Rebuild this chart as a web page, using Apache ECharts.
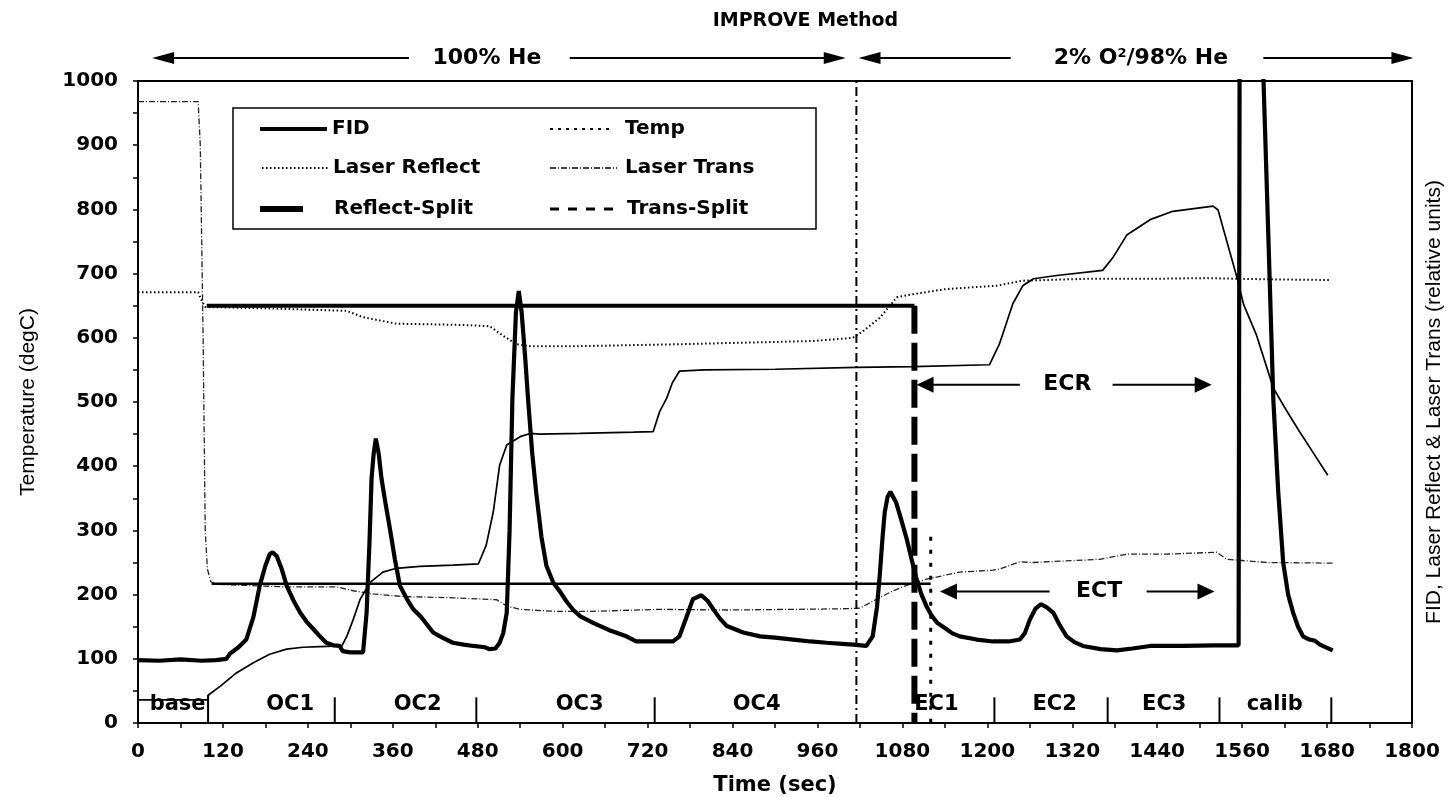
<!DOCTYPE html>
<html><head><meta charset="utf-8">
<script src="https://cdn.jsdelivr.net/npm/echarts@6/dist/echarts.min.js"></script>
<style>html,body{margin:0;padding:0;background:#fff}#c{width:1452px;height:797px}</style>
</head><body><div id="c"></div><script>
// ---------------- DATA (time in s, value in axis units) ----------------
const fidData = [[0,98],[30,97],[60,99],[90,97],[110,98],[125,100],[130,108],[142,118],[153,130],[163,165],[172,214],[180,245],[186,263],[190,266],[196,260],[203,240],[210,214],[220,190],[229,172],[238,158],[248,146],[257,135],[266,125],[276,121],[285,120],[289,112],[300,110],[318,110],[323,172],[327,280],[330,381],[333,420],[336,443],[340,420],[344,381],[350,340],[356,302],[363,255],[370,214],[380,193],[389,177],[400,165],[417,141],[430,133],[445,125],[460,122],[474,120],[490,118],[497,115],[505,116],[511,125],[516,140],[521,172],[525,300],[529,506],[534,640],[538,673],[542,640],[547,570],[551,506],[557,420],[563,355],[570,290],[577,245],[587,218],[596,205],[605,190],[615,176],[625,166],[643,156],[665,145],[690,135],[704,127],[730,127],[756,127],[765,135],[775,165],[784,193],[796,199],[805,190],[813,177],[822,163],[832,151],[855,141],[879,135],[900,133],[926,130],[950,127],[973,125],[1000,123],[1011,122],[1029,120],[1038,135],[1044,180],[1048,230],[1052,290],[1055,328],[1059,352],[1063,360],[1071,344],[1078,318],[1086,287],[1093,255],[1100,224],[1107,200],[1114,182],[1121,168],[1129,156],[1140,148],[1150,140],[1161,135],[1185,130],[1208,127],[1230,127],[1246,130],[1253,140],[1260,161],[1268,178],[1276,185],[1284,180],[1293,172],[1302,153],[1312,135],[1323,126],[1335,120],[1360,115],[1383,113],[1405,116],[1430,120],[1477,120],[1520,121],[1555,121],[1557,1400],[1585,1400],[1590,1008],[1597,760],[1604,505],[1611,360],[1618,250],[1625,200],[1632,172],[1639,150],[1646,135],[1655,130],[1663,128],[1670,122],[1680,117],[1688,113]];
const tempData = [[0,36],[98,36],[100,44],[116,57],[139,78],[163,94],[186,107],[210,115],[233,118],[257,119],[288,120],[295,135],[304,161],[314,193],[328,219],[346,235],[365,241],[398,244],[445,246],[481,248],[492,277],[502,329],[511,402],[521,433],[540,446],[554,451],[568,450],[624,451],[700,453],[728,454],[737,485],[747,506],[755,530],[765,548],[800,550],[900,551],[1015,554],[1095,555],[1203,558],[1217,590],[1236,653],[1250,681],[1265,692],[1298,697],[1363,705],[1378,726],[1397,760],[1430,784],[1462,797],[1519,805],[1526,799],[1542,736],[1554,689],[1562,652],[1580,605],[1604,522],[1622,488],[1641,454],[1661,420],[1681,386]];
const reflectData = [[0,671],[85,671],[89,660],[95,648],[177,646],[295,642],[318,632],[365,622],[459,620],[497,618],[516,603],[535,590],[554,587],[624,587],[765,590],[954,595],[1010,600],[1024,610],[1048,631],[1072,663],[1095,668],[1142,676],[1213,681],[1250,689],[1344,692],[1439,692],[1509,693],[1551,692],[1604,691],[1684,690]];
const transData = [[0,968],[85,968],[88,900],[92,600],[95,300],[98,240],[103,220],[110,216],[210,212],[281,212],[304,206],[332,201],[375,197],[445,195],[507,192],[521,182],[540,177],[587,174],[643,174],[737,177],[832,176],[926,177],[1000,178],[1020,179],[1044,193],[1067,206],[1090,216],[1114,224],[1161,235],[1208,238],[1218,240],[1246,251],[1265,250],[1359,255],[1397,263],[1453,263],[1524,266],[1538,255],[1595,250],[1689,249]];

const reflectSplit = {level:650, start:97, time:1097};
const transSplit = {level:217, start:104, time:1120, top:290};
const gasChangeTime = 1015;

const segmentBounds = [99,278,478,730,1210,1370,1528,1686];
const segmentBoundTops = [44,40,40,40,40,40,40,40];
const segmentNames = ['base','OC1','OC2','OC3','OC4','EC1','EC2','EC3','calib'];
const segmentCenters = [56,215,395,624,874,1128,1295,1450,1606];
const segmentLabelLevel = 28;

const xTicks = {min:0, max:1800, interval:120};
const yTicks = {min:0, max:1000, interval:100};

// annotations (data coordinates)
const ecr = {level:527, tipL:1100, lineL:1246, text:1313, lineR:1377, tipR:1517};
const ect = {level:205, tipL:1133, lineL:1288, text:1358, lineR:1425, tipR:1521};
const heArrow = {tipL:20, lineL:383, text:493, lineR:610, tipR:1000};
const o2Arrow = {tipL:1018, lineL:1233, text:1417, lineR:1590, tipR:1802};
const titleCenterT = 943;

// ---------------- CHART ----------------
const FONT = '"DejaVu Sans", sans-serif';
const chart = echarts.init(document.getElementById('c'));

function ls(name, data, lineStyle, z){
  return {name, type:'line', data, showSymbol:false, symbol:'none', clip:true,
    lineStyle:Object.assign({color:'#000'}, lineStyle), z, silent:true, animation:false};
}

const series = [
  ls('Laser Trans', transData, {width:1.3, color:'#222', type:[6,2,1,2]}, 2),
  ls('Laser Reflect', reflectData, {width:2, type:[1.5,2.5]}, 2),
  ls('Temp', tempData, {width:1.7}, 3),
  ls('Trans-Split', [[transSplit.start,transSplit.level],[transSplit.time,transSplit.level]], {width:2.5}, 4),
  ls('Trans-Split-v', [[transSplit.time,transSplit.top],[transSplit.time,0]], {width:3, type:[4,9]}, 4),
  ls('Reflect-Split', [[reflectSplit.start,reflectSplit.level],[reflectSplit.time,reflectSplit.level]], {width:4}, 4),
  ls('Reflect-Split-v', [[reflectSplit.time,reflectSplit.level],[reflectSplit.time,0]], {width:6, type:[28,9]}, 4),
  ls('gas', [[gasChangeTime,0],[gasChangeTime,1000]], {width:2, type:[9,4,2,4]}, 4),
  ls('FID', fidData, {width:4.2}, 6)
];
segmentBounds.forEach((t,i)=>{
  series.push(ls('div'+i, [[t,0],[t,segmentBoundTops[i]]], {width:2}, 4));
});

chart.setOption({
  animation:false,
  backgroundColor:'#fff',
  grid:{left:138, right:40, top:81, bottom:74, show:true, borderColor:'#000', borderWidth:2,
        containLabel:false, outerBoundsMode:'none'},
  xAxis:{type:'value', min:xTicks.min, max:xTicks.max, interval:xTicks.interval,
    name:'Time (sec)', nameLocation:'middle', nameGap:52,
    nameTextStyle:{fontFamily:FONT, fontWeight:'bold', fontSize:21, color:'#000'},
    axisLine:{lineStyle:{color:'#000', width:2}},
    axisTick:{show:true, length:5, lineStyle:{color:'#000', width:1.5}},
    minorTick:{show:true, splitNumber:2, length:5, lineStyle:{color:'#000', width:1.5}},
    splitLine:{show:false},
    axisLabel:{fontFamily:FONT, fontWeight:'bold', fontSize:20, color:'#000', margin:19, formatter:v=>String(v)}},
  yAxis:[
    {type:'value', min:yTicks.min, max:yTicks.max, interval:yTicks.interval,
     name:'Temperature (degC)', nameLocation:'middle', nameGap:99, nameRotate:90,
     nameTextStyle:{fontFamily:'"Liberation Sans", Arial, sans-serif', fontSize:21, color:'#000'},
     axisLine:{show:true, lineStyle:{color:'#000', width:2}},
     axisTick:{show:true, length:5, lineStyle:{color:'#000', width:1.5}},
     minorTick:{show:true, splitNumber:2, length:5, lineStyle:{color:'#000', width:1.5}},
     splitLine:{show:false},
     axisLabel:{fontFamily:FONT, fontWeight:'bold', fontSize:20, color:'#000', margin:20, formatter:v=>String(v)}},
    {type:'value', min:yTicks.min, max:yTicks.max, position:'right',
     name:'FID, Laser Reflect & Laser Trans (relative units)', nameLocation:'middle', nameGap:12, nameRotate:90,
     nameTextStyle:{fontFamily:'"Liberation Sans", Arial, sans-serif', fontSize:21, color:'#000'},
     axisLine:{show:true, lineStyle:{color:'#000', width:2}},
     axisTick:{show:false}, axisLabel:{show:false}, splitLine:{show:false}}
  ],
  series
});

// ---------------- GRAPHICS (annotations & legend) ----------------
const P = (t,v)=>chart.convertToPixel({xAxisIndex:0, yAxisIndex:0},[t,v]);
const X = t=>P(t,0)[0];
const Y = v=>P(0,v)[1];
const g = [];
function line(x1,y1,x2,y2,w,dash){ g.push({type:'line', silent:true, z:100, shape:{x1,y1,x2,y2}, style:{stroke:'#000', lineWidth:w, lineDash:dash||null}}); }
function text(t,x,y,font,align){ g.push({type:'text', silent:true, z:100, style:{text:t, x, y, font, fill:'#000', align:align||'center', verticalAlign:'middle', textAlign:align||'center', textVerticalAlign:'middle'}}); }
function head(x,y,dir,L,W){ g.push({type:'polygon', silent:true, z:100, shape:{points:[[x,y],[x-dir*L,y-W],[x-dir*L,y+W]]}, style:{fill:'#000'}}); }

const BOLD = s=>'bold '+s+'px "DejaVu Sans"';
// title & gas arrows
const TITLE_Y = 21, ARROW_Y = 58;
text('IMPROVE Method', X(titleCenterT), TITLE_Y, BOLD(19));
[heArrow, o2Arrow].forEach(a=>{
  line(X(a.tipL)+4, ARROW_Y, X(a.lineL), ARROW_Y, 2);
  line(X(a.lineR), ARROW_Y, X(a.tipR)-4, ARROW_Y, 2);
  head(X(a.tipL), ARROW_Y, -1, 22, 6);
  head(X(a.tipR), ARROW_Y, 1, 22, 6);
});
text('100% He', X(heArrow.text), ARROW_Y, BOLD(22));
g.push({type:'text', silent:true, z:100, style:{
  text:'{a|2% O}{b|2}{a|/98% He}', x:X(o2Arrow.text), y:ARROW_Y, align:'center', verticalAlign:'middle',
  textAlign:'center', textVerticalAlign:'middle',
  rich:{a:{font:BOLD(22), fill:'#000', verticalAlign:'bottom'}, b:{font:BOLD(13), fill:'#000', verticalAlign:'top'}}}});

// segment labels
segmentNames.forEach((n,i)=>{
  const p = P(segmentCenters[i], segmentLabelLevel);
  text(n, p[0], p[1], BOLD(21));
});

// ECR / ECT arrows
[[ecr,'ECR'],[ect,'ECT']].forEach(([a,label])=>{
  const y = Y(a.level);
  line(X(a.tipL)+4, y, X(a.lineL), y, 2);
  line(X(a.lineR), y, X(a.tipR)-4, y, 2);
  head(X(a.tipL), y, -1, 17, 8);
  head(X(a.tipR), y, 1, 17, 8);
  text(label, X(a.text), y, BOLD(22));
});

// legend
g.push({type:'rect', silent:true, z:99, shape:{x:233, y:108, width:583, height:121}, style:{fill:'#fff', stroke:'#000', lineWidth:1.5}});
const rows = [129, 168, 209];
line(260, rows[0], 327, rows[0], 4);
text('FID', 332, rows[0], BOLD(20), 'left');
line(262, rows[1], 330, rows[1], 2, [1.5,2.5]);
text('Laser Reflect', 333, rows[1], BOLD(20), 'left');
line(260, rows[2], 303, rows[2], 6);
text('Reflect-Split', 334, rows[2], BOLD(20), 'left');
line(550, rows[0], 614, rows[0], 2, [3,5]);
text('Temp', 625, rows[0], BOLD(20), 'left');
line(550, rows[1], 617, rows[1], 1.3, [6,2,1,2]);
text('Laser Trans', 625, rows[1], BOLD(20), 'left');
line(550, rows[2], 614, rows[2], 3, [9,9]);
text('Trans-Split', 627, rows[2], BOLD(20), 'left');

chart.setOption({graphic: g});
</script></body></html>
